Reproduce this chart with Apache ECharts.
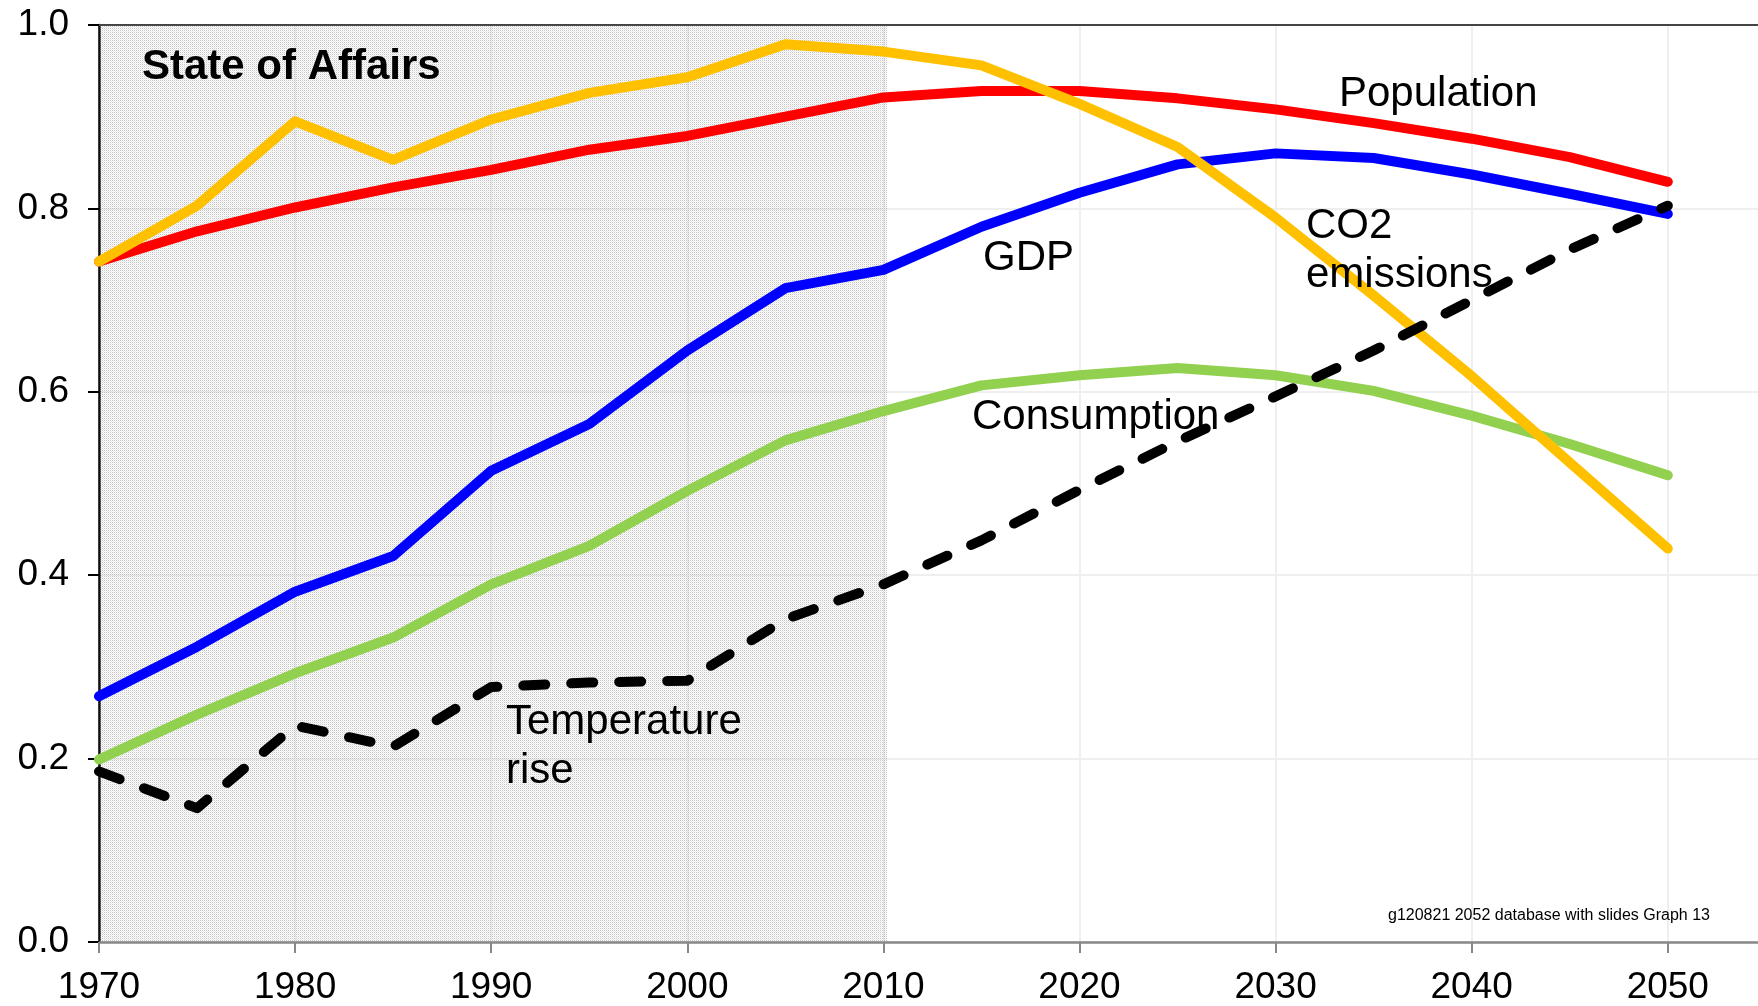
<!DOCTYPE html>
<html>
<head>
<meta charset="utf-8">
<title>State of Affairs</title>
<script src="https://cdn.jsdelivr.net/npm/echarts@6/dist/echarts.min.js"></script>
<style>
    html, body { margin: 0; padding: 0; background: #fff; }
    #chart { width: 1758px; height: 1006px; }
</style>
</head>
<body>
<div id="chart"></div>
<script>
    // --- data (5-year steps) ---
    var years = [1970, 1975, 1980, 1985, 1990, 1995, 2000, 2005, 2010,
                 2015, 2020, 2025, 2030, 2035, 2040, 2045, 2050];
    var population  = [0.742, 0.775, 0.801, 0.823, 0.842, 0.864, 0.879, 0.900, 0.921,
                       0.928, 0.928, 0.920, 0.908, 0.893, 0.876, 0.856, 0.829];
    var gdp         = [0.268, 0.322, 0.382, 0.421, 0.514, 0.565, 0.645, 0.713, 0.733,
                       0.780, 0.817, 0.848, 0.860, 0.855, 0.837, 0.816, 0.794];
    var consumption = [0.199, 0.248, 0.293, 0.332, 0.390, 0.432, 0.492, 0.547, 0.579,
                       0.607, 0.618, 0.626, 0.618, 0.601, 0.574, 0.543, 0.509];
    var co2         = [0.742, 0.803, 0.895, 0.853, 0.897, 0.926, 0.943, 0.979, 0.971,
                       0.956, 0.914, 0.867, 0.790, 0.705, 0.617, 0.523, 0.429];
    var temperature = [0.186, 0.146, 0.236, 0.213, 0.278, 0.283, 0.285, 0.352, 0.390,
                       0.438, 0.493, 0.546, 0.595, 0.645, 0.700, 0.755, 0.803];
    var historyRange = [1970, 2010.2];   // shaded "observed" period
    var xTicks = [1970, 1980, 1990, 2000, 2010, 2020, 2030, 2040, 2050];

    var FONT = '"Liberation Sans", Arial, sans-serif';

    function pairs(values) {
        return years.map(function (y, i) { return [y, values[i]]; });
    }

    // stipple pattern for the history block (transparent between dots so grid shows)
    function stipple() {
        var c = document.createElement('canvas');
        c.width = 2; c.height = 2;
        var ctx = c.getContext('2d');
        ctx.fillStyle = 'rgba(150,150,150,0.55)';
        ctx.fillRect(0, 0, 1, 1);
        ctx.fillStyle = 'rgba(150,150,150,0.2)';
        ctx.fillRect(1, 1, 1, 1);
        return { image: c, repeat: 'repeat' };
    }

    function line(name, values, color, extra) {
        var s = {
            name: name,
            type: 'line',
            data: pairs(values),
            symbol: 'none',
            lineStyle: { color: color, width: 10, cap: 'round', join: 'round' },
            z: 3
        };
        if (extra) {
            for (var k in extra) s[k] = extra[k];
        }
        return s;
    }

    // top = top of the text box
    function label(text, x, y, size, bold) {
        return {
            type: 'text',
            left: x,
            top: y,
            z: 100,
            style: {
                text: text,
                font: (bold ? 'bold ' : '') + size + 'px ' + FONT,
                fill: '#000'
            }
        };
    }

    var chart = echarts.init(document.getElementById('chart'), null, { renderer: 'canvas' });

    var option = {
        animation: false,
        backgroundColor: '#fff',
        grid: { left: 99, right: 0, top: 25, bottom: 63, containLabel: false },
        xAxis: [{
            type: 'value',
            min: 1970,
            max: 2054.6,
            interval: 10,
            axisLine: { lineStyle: { color: '#888', width: 2.5 } },
            axisTick: { length: 11, customValues: xTicks, lineStyle: { color: '#888', width: 2 } },
            axisLabel: {
                color: '#000', fontSize: 37, fontFamily: FONT, margin: 27,
                customValues: xTicks,
                formatter: function (v) { return String(v); }
            },
            splitLine: { show: true, lineStyle: { color: '#efefef', width: 2 } }
        }, {
            type: 'value',
            position: 'top',
            min: 1970,
            max: 2054.6,
            axisLine: { show: true, lineStyle: { color: '#444', width: 2 } },
            axisTick: { show: false },
            axisLabel: { show: false },
            splitLine: { show: false }
        }],
        yAxis: {
            type: 'value',
            min: 0,
            max: 1,
            interval: 0.2,
            axisLine: { show: true, lineStyle: { color: '#000', width: 2.5 } },
            axisTick: { show: true, length: 11, lineStyle: { color: '#000', width: 2 } },
            axisLabel: {
                color: '#000', fontSize: 37, fontFamily: FONT, margin: 30,
                formatter: function (v) { return v.toFixed(1); }
            },
            splitLine: { show: true, lineStyle: { color: '#efefef', width: 2 } }
        },
        series: [
            line('Population', population, '#ff0000', {
                markArea: {
                    silent: true,
                    itemStyle: { color: stipple() },
                    data: [[{ xAxis: historyRange[0] }, { xAxis: historyRange[1] }]]
                },
                z: 2
            }),
            line('GDP', gdp, '#0000ff'),
            line('Consumption', consumption, '#92d050'),
            line('CO2 emissions', co2, '#ffc000'),
            line('Temperature rise', temperature, '#000', {
                lineStyle: { color: '#000', width: 10, cap: 'round', join: 'round', type: [22, 26] },
                z: 4
            })
        ],
        graphic: [
            label('State of Affairs', 142, 46, 42, true),
            label('Population', 1339, 73, 42),
            label('GDP', 983, 237, 42),
            label('CO2', 1306, 205, 42),
            label('emissions', 1306, 254, 42),
            label('Consumption', 972, 396, 42),
            label('Temperature', 506, 701, 42),
            label('rise', 506, 750, 42),
            {
                type: 'text',
                right: 48,
                top: 908,
                z: 100,
                style: {
                    text: 'g120821 2052 database with slides Graph 13',
                    font: '16px ' + FONT,
                    fill: '#000'
                }
            }
        ]
    };

    chart.setOption(option);
</script>
</body>
</html>
